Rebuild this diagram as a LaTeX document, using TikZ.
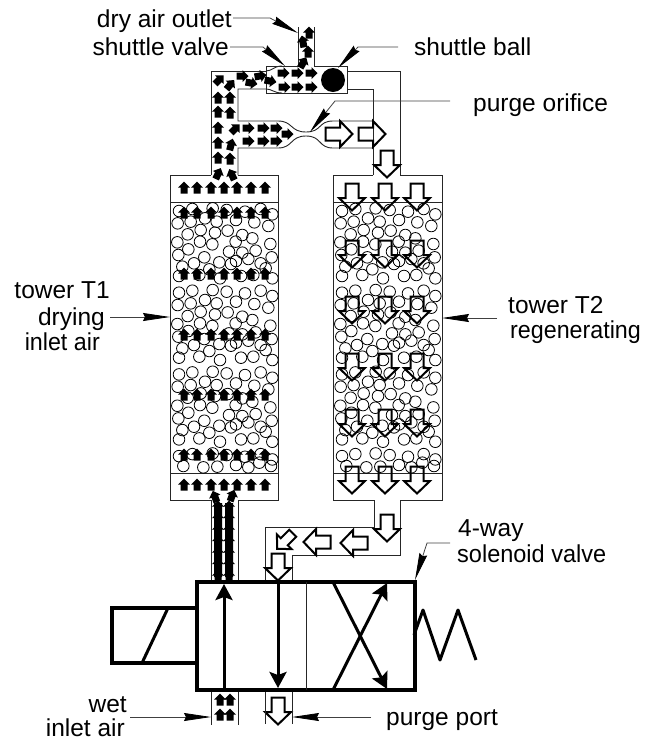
\documentclass[tikz,border=0pt]{standalone}
\usepackage{fontspec}
\setmainfont{Liberation Sans}
\usetikzlibrary{arrows.meta}
\tikzset{
  thin line/.style={line width=0.9pt,draw=black!85},
  heavy/.style={line width=4pt,line join=miter},
  medium/.style={line width=3pt},
  bead/.style={line width=0.8pt,draw=black},
  lbl/.style={inner sep=0pt,font=\fontsize{24.5}{26}\selectfont,text=black},
  leader/.style={line width=0.8pt,draw=black!75,-{Stealth[length=27pt,width=8pt,inset=2pt,color=black,fill=black]}},
  flowtip/.style={-{Stealth[length=16pt,width=17pt,inset=3pt]}},
  blk/.pic={\fill[black] (0,-6.5)--(6,-0.5)--(3.5,-0.5)--(3.5,5.5)--(-3.5,5.5)--(-3.5,-0.5)--(-6,-0.5)--cycle;},
  opn/.pic={\draw[line width=2pt,line join=miter,draw=black] (-6.5,-13.5)--(6.5,-13.5)--(6.5,1)--(13,1)--(0,13.5)--(-13,1)--(-6.5,1)--cycle;},
  opnsm/.pic={\draw[line width=2pt,line join=miter,draw=black] (-5,-11)--(5,-11)--(5,1)--(10.5,1)--(0,11)--(-10.5,1)--(-5,1)--cycle;}
}
\begin{document}
\begin{tikzpicture}[x=1pt,y=-1pt]
\useasboundingbox (0,0) rectangle (651,740);
% towers
\draw[thin line] (211,175)--(170,175)--(170,500)--(211,500)--(211,582);
\draw[thin line] (238,582)--(238,500)--(278,500)--(278,175)--(238,175);
\draw[thin line] (170,202)--(278,202) (170,473)--(278,473);
\draw[thin line] (373,175)--(333,175)--(333,500)--(374,500)--(374,527)--(265,527)--(265,582);
\draw[thin line] (400,175)--(442,175)--(442,500)--(400,500)--(400,555)--(292,555)--(292,582);
\draw[thin line] (333,202)--(442,202) (333,473)--(442,473);
% upper pipes
\draw[thin line] (211,175)--(211,71)--(266,71);
\draw[thin line] (298,27)--(298,66)--(266,66)--(266,93)--(347,93)--(347,66)--(314,66)--(314,27);
\draw[thin line] (347,71)--(400,71)--(400,175);
\draw[thin line] (347,89)--(373,89)--(373,175);
\draw[thin line] (266,89)--(238,89)--(238,121)--(278,121)
  .. controls (293,121) and (290,132) .. (306,132) .. controls (322,132) and (318,121) .. (333,121)--(373,121);
\draw[thin line] (238,175)--(238,148)--(278,148)
  .. controls (293,148) and (290,136) .. (306,136) .. controls (322,136) and (318,148) .. (333,148)--(373,148);
\draw[thin line] (266,71) .. controls (272,71) and (274,66) .. (282,66);
\draw[thin line] (266,89) .. controls (272,89) and (274,93) .. (282,93);
\fill[black] (333,80) circle (12);
% beads
\foreach \o in {0,163}{
 \foreach \t in {0,81.7,163.4}{
  \foreach \a/\b in {42/33,82/27,143/25,185/30,240/35,287/27,322/43,38/70,77/65,120/55,155/65,213/60,268/67,310/78,68/103,107/90,150/98,188/92,232/105,262/115,37/127,105/125,142/133,212/125,316/132,40/165,70/148,192/155,232/158,272/152,320/172,118/172,163/187,213/183,250/177,287/190,302/205,52/200,87/190,133/208,198/192,322/235,42/228,103/225,165/235,228/228,265/225}{
   \draw[bead] ({165+\o+\a/3},{200+\t+\b/3}) circle (5.8);
  }
 }
 \foreach \a/\b in {42/33,82/27,143/25,185/30,240/35,287/27,322/43}{
  \draw[bead] ({165+\o+\a/3},{445.1+\b/3}) circle (5.8);
 }
 \foreach \a/\b in {55/258,115/262,157/260,213/255,250/262,283/248,318/258}{
  \draw[bead] ({165+\o+\a/3},{380+\b/3}) circle (5.8);
 }
}
% black arrows in tower T1
\foreach \y in {188,213,274,335,395,455,485}{
 \foreach \x in {184,197,211,224,237,251,265}{
  \pic at (\x,\y) {blk};
 }
}
% black arrows in pipes
\foreach \x/\y/\r in {218/174/-25,218/158/0,218/143/0,218/128/0,218/112/0,218/98/0,219/80/-45,242/76/-90,260/76/-80,230/85/-40,251/83/-100,270/81/-100,
 283/73/-90,297/73/-90,311/73/-90,284/87/-90,297/87/-90,311/87/-90,
 230/98/0,230/113/0,235/129/-45,231/145/-15,230/159/0,232/175/25,
 248/128/-90,263/128/-90,276/128/-90,248/141/-90,263/141/-90,276/141/-90,287/134/-90,
 303/63/-30,308/52/0,303/42/10,309/33/0,
 215/497/20,232/496/-20,220/700/0,230/700/0,220/715/0,230/715/0}{
 \pic[rotate=\r] at (\x,\y) {blk};
}
\fill[black] (214,503) rectangle (222,577) (225,503) rectangle (233,577);
\foreach \y in {507,518.5,530,541.5,553,564.5,576}{
 \pic at (218,\y) {blk};
 \pic at (229,\y) {blk};
}
% open arrows
\foreach \y in {197,254,310,367,423,480}{
 \foreach \x in {352,385,417}{
  \pic at (\x,\y) {opn};
 }
}
\foreach \x/\y/\r in {339/134/90,372/134/90,387/164/0,387/528/0,317/542/-90,354/543/-90,278/567/0,278/711/0}{
 \pic[rotate=\r] at (\x,\y) {opn};
}
\pic[rotate=-45] at (285,541) {opnsm};
% valve
\draw[heavy] (197,582) rectangle (415,690);
\draw[thin line] (306,582)--(306,690);
\draw[medium,flowtip] (224,690)--(224,584);
\draw[medium,flowtip] (278,582)--(278,688);
\draw[medium,flowtip] (333,582)--(387,689);
\draw[medium,flowtip] (333,690)--(387,583);
\draw[heavy] (197,608)--(112,608)--(112,663)--(197,663);
\draw[medium] (142,663)--(168,608);
\draw[medium,line join=round] (414,635)--(423,610)--(440,660)--(458,610)--(476,660);
% lower ports
\draw[thin line] (211,692)--(211,725) (238,692)--(238,725);
\draw[thin line] (265,692)--(265,724) (292,692)--(292,724);
% labels
\node[lbl,anchor=base east] (dry) at (232,27) {dry air outlet};
\node[lbl,anchor=base east] (shv) at (229,55) {shuttle valve};
\node[lbl,anchor=base west] (shb) at (414,55) {shuttle ball};
\node[lbl,anchor=base west] (ori) at (473,111) {purge orifice};
\node[lbl,anchor=base east] (t1a) at (110,298) {tower T1};
\node[lbl,anchor=base east] (t1b) at (105,325) {drying};
\node[lbl,anchor=base east] (t1c) at (100,350) {\scalebox{.95}[1]{inlet air}};
\node[lbl,anchor=base west] (t2a) at (508,313) {tower T2};
\node[lbl,anchor=base west] (t2b) at (510,338) {\scalebox{.95}[1]{regenerating}};
\node[lbl,anchor=base west] (sola) at (458,536) {4-way};
\node[lbl,anchor=base west] (solb) at (457,562) {\scalebox{.96}[1]{solenoid valve}};
\node[lbl,anchor=base east] (weta) at (127,712) {wet};
\node[lbl,anchor=base east] (wetb) at (125,736) {inlet air};
\node[lbl,anchor=base west] (pp) at (386,725) {purge port};
% leaders
\coordinate (dryL) at (233,18);
\draw[leader] (dryL)--(270,18)--(298,33);
\coordinate (shvL) at (230,47);
\draw[leader] (shvL)--(263,47)--(285,66);
\coordinate (shbL) at (398,47);
\draw[leader] (shbL)--(358,47)--(338,68);
\coordinate (oriL) at (450,101);
\draw[leader] (oriL)--(335,101)--(310,132);
\coordinate (t1L) at (110,317);
\draw[leader] (t1L)--(170,317);
\coordinate (t2L) at (497,318);
\draw[leader] (t2L)--(442,318);
\coordinate (solL) at (450,543);
\draw[leader] (solL)--(427,543)--(415,580);
\coordinate (wetL) at (130,717);
\draw[leader] (wetL)--(211,717);
\coordinate (ppL) at (371,717);
\draw[leader] (ppL)--(292,717);
\end{tikzpicture}
\end{document}
